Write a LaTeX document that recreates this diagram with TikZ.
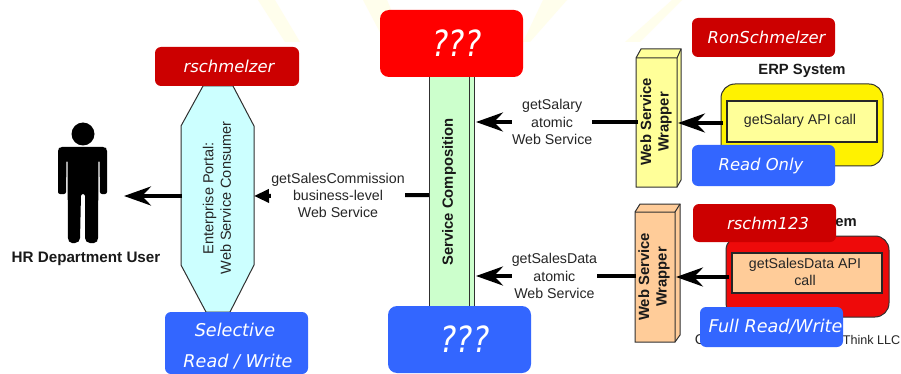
\documentclass[tikz,border=0pt]{standalone}
\usepackage{fontspec}
\setmainfont{Liberation Sans}
\newfontfamily\pillfont{DejaVu Sans}
\usetikzlibrary{arrows.meta}
\definecolor{pillred}{HTML}{CC0000}
\definecolor{pillblue}{HTML}{3366FF}
\definecolor{brightred}{HTML}{FF0000}
\definecolor{portalfill}{HTML}{CCFFFF}
\definecolor{compfill}{HTML}{CCFFCC}
\definecolor{paleyellow}{HTML}{FFFF99}
\definecolor{paleorange}{HTML}{FFCC99}
\definecolor{sysred}{HTML}{EE0A0A}
\definecolor{edgegray}{HTML}{303030}
\definecolor{wmark}{HTML}{FFFEEC}
\tikzset{
 x=1pt,y=-1pt,
 lbl/.style={font=\fontsize{14.2}{17.4}\selectfont,align=center,inner sep=0pt,text=black!85},
 lblb/.style={font=\fontsize{14.8}{17.6}\selectfont\bfseries,align=center,inner sep=0pt,text=black!90},
 pill/.style={rounded corners=6pt,inner sep=0pt,text=white,font=\fontsize{16.4}{20}\selectfont\pillfont\itshape,align=center},
 pillwide/.style={font=\fontsize{17.6}{20}\selectfont\pillfont\itshape},
 bigpill/.style={rounded corners=9pt,inner sep=0pt,text=white,font=\fontsize{36}{40}\selectfont\pillfont\itshape},
 flow/.style={line width=4pt,draw=black,-{Stealth[length=27pt,width=19pt,inset=9pt]}},
 gap/.style={fill=white,inner sep=0pt},
 outl/.style={draw=edgegray,line width=1pt},
 inner/.style={draw=black!85,line width=1.4pt},
}
\begin{document}
\begin{tikzpicture}
\useasboundingbox (0,0) rectangle (901,374);
\fill[white] (0,0) rectangle (901,374);
% watermark
\fill[wmark] (258,0) -- (275,0) -- (300,42) -- (285,42) -- cycle;
\fill[wmark] (363,0) -- (387,0) -- (405,42) -- (385,42) -- cycle;
\fill[wmark] (543,0) -- (567,0) -- (530,42) -- (523,42) -- cycle;
\fill[wmark] (672,0) -- (682,0) -- (640,42) -- (625,42) -- cycle;
% user figure
\fill (83,134) circle (11.5);
\fill[rounded corners=2pt] (58,149) -- (60,147) -- (105,147) -- (107,149) -- (107,194) -- (100,194) -- (99.5,160) -- (98.5,160) -- (98,240) -- (96,243) -- (88,243) -- (85,240) -- (85,194) -- (81,194) -- (80,240) -- (77,243) -- (70,243) -- (68,240) -- (67.5,160) -- (66.5,160) -- (66,194) -- (58,194) -- cycle;
\coordinate (userpt) at (124,196);
\node[lblb,font=\fontsize{15.2}{17}\selectfont\bfseries] (hr) at (86,259) {HR Department User};
% portal
\filldraw[outl,fill=portalfill] (203,86) -- (233,86) -- (254,126) -- (254,265) -- (230,312) -- (206,312) -- (181,265) -- (181,126) -- cycle;
\coordinate (portalW) at (182,196);
\coordinate (portalE) at (254,196);
\node[lbl,rotate=90,font=\fontsize{14.5}{17.4}\selectfont] (portaltext) at (217,198) {Enterprise Portal:\\Web Service Consumer};
% service composition
\filldraw[outl,fill=compfill] (429,77) rectangle (469,306);
\filldraw[outl,fill=compfill] (469,77) rectangle (474,306);
\coordinate (compW) at (429,195);
\coordinate (compE1) at (476,122);
\coordinate (compE2) at (476,276);
\node[lblb,rotate=90] (comptext) at (449,192) {Service Composition};
% wrappers
\filldraw[outl,fill=paleyellow] (636,58) -- (641,49) -- (681,49) -- (681,180) -- (677,187) -- (636,187) -- cycle;
\draw[outl] (636,58) -- (677,58) -- (677,187) (677,58) -- (681,49);
\node[lblb,rotate=90] (wrap1) at (656,122) {Web Service\\Wrapper};
\filldraw[outl,fill=paleorange] (635,212) -- (640,204) -- (680,204) -- (680,335) -- (675,342) -- (635,342) -- cycle;
\draw[outl] (635,212) -- (675,212) -- (675,342) (675,212) -- (680,204);
\node[lblb,rotate=90] (wrap2) at (654,277) {Web Service\\Wrapper};
\coordinate (w1W) at (638,122);
\coordinate (w1E) at (678,123);
\coordinate (w2W) at (636,276);
\coordinate (w2E) at (676,277);
% systems
\filldraw[outl,fill=yellow,rounded corners=14pt] (721,84) rectangle (883,166);
\filldraw[inner,fill=paleyellow] (727,101) rectangle (877,142);
\node[lbl] (api1) at (800,120.5) {getSalary API call};
\node[lblb] (erp) at (802,71) {ERP System};
\filldraw[outl,fill=sysred,rounded corners=14pt] (726,236) rectangle (889,317);
\filldraw[inner,fill=paleorange] (732,253) rectangle (882,293);
\node[lbl] (api2) at (805,272) {getSalesData API\\call};
\node[lblb] (emfrag) at (846,223) {em};
\node[lbl] (cfrag) at (700,340) {C};
\node[lbl,anchor=east,font=\fontsize{12.6}{16}\selectfont] (thinkfrag) at (900.5,340) {Think LLC};
\coordinate (erpE) at (723,123);
\coordinate (sysE) at (729,277);
% connectors
\draw[flow] (portalW) -- (userpt);
\draw[flow,-{Stealth[length=15pt,width=13pt,inset=0pt]}] (compW) -- node[gap,lbl,pos=.52] (lab1) {getSalesCommission\\business-level\\Web Service} (portalE);
\draw[flow] (w1W) -- node[gap,lbl,pos=.53] (lab2) {getSalary\\atomic\\Web Service} (compE1);
\draw[flow] (w2W) -- node[gap,lbl,pos=.51] (lab3) {getSalesData\\atomic\\Web Service} (compE2);
\draw[flow] (erpE) -- (w1E);
\draw[flow] (sysE) -- (w2E);
% pills
\fill[pill,fill=pillred] (155,47) rectangle node[xshift=2pt] (p1) {rschmelzer} (299,86);
\fill[pill,fill=pillblue] (165,312) rectangle (308,374);
\node[pill,pillwide] (p2a) at (235,330) {Selective};
\node[pill,pillwide] (p2b) at (238,362) {Read / Write};
\fill[bigpill,fill=brightred] (380,10) rectangle node[xshift=5.5pt,xscale=.85] (p3) {???} (523,77);
\fill[bigpill,fill=pillblue] (388,306) rectangle node[xshift=5.5pt,xscale=.85] (p4) {???} (531,373);
\fill[pill,fill=pillred] (692,18) rectangle node[xshift=3pt] (p5) {RonSchmelzer} (835,57);
\fill[pill,fill=pillblue] (692,145) rectangle node[xshift=-2.5pt] (p6) {Read Only} (835,186);
\fill[pill,fill=pillred] (693,204) rectangle node[xshift=3.5pt] (p7) {rschm123} (836,242);
\fill[pill,fill=pillblue] (700,307) rectangle node[pillwide,xshift=4pt] (p8) {Full Read/Write} (843,347);
\end{tikzpicture}
\end{document}
